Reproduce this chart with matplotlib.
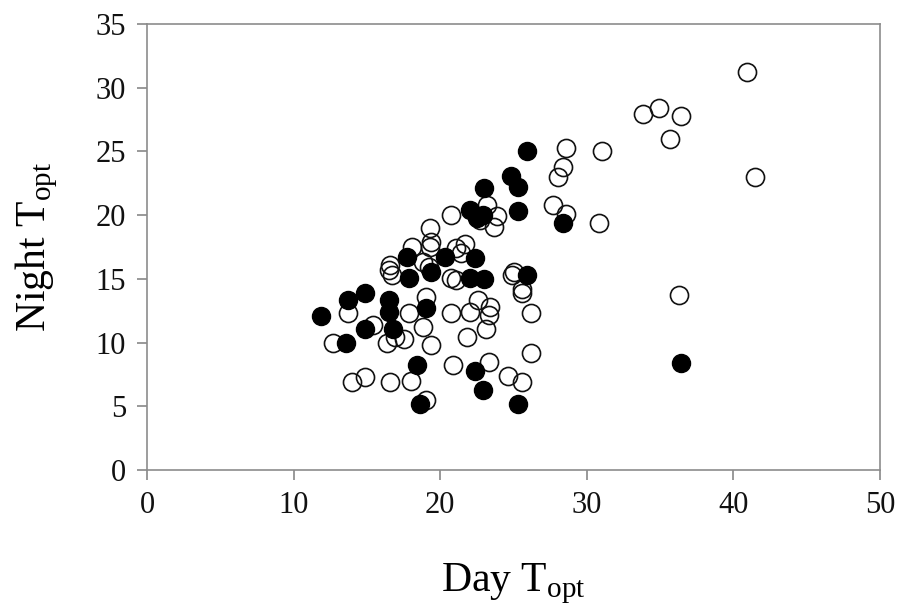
import matplotlib
matplotlib.use("Agg")
import matplotlib.pyplot as plt

plt.rcParams['font.family'] = ['Liberation Serif', 'DejaVu Serif']
plt.rcParams['mathtext.fontset'] = 'custom'
plt.rcParams['mathtext.rm'] = 'Liberation Serif'

# open circles
day_open = [40.9, 41.5, 33.8, 34.9, 36.4, 35.7, 28.6, 31.0, 28.4, 28.0, 27.7, 28.6, 30.8, 36.3,
            20.7, 23.2, 23.9, 23.7, 22.7,
            19.3, 19.4, 19.3, 18.1, 21.1, 21.7, 21.4,
            16.6, 16.5, 16.7, 18.8, 19.2, 20.7, 21.1, 25.0, 24.9, 25.6,
            13.7, 12.7, 15.4, 16.4, 16.9, 17.5, 17.9, 19.0, 18.8, 19.4, 20.7, 22.0, 22.6, 23.4,
            23.3, 23.1, 21.8, 25.6, 26.2, 26.2, 20.9, 23.3, 24.6, 25.6, 14.0, 14.9, 16.6, 18.0, 19.0]
night_open = [31.2, 23.0, 27.9, 28.4, 27.8, 26.0, 25.3, 25.0, 23.8, 23.0, 20.8, 20.1, 19.4, 13.7,
              20.0, 20.8, 19.9, 19.1, 19.6,
              19.0, 17.9, 17.5, 17.5, 17.4, 17.7, 17.0,
              16.1, 15.7, 15.3, 16.3, 15.9, 15.1, 14.9, 15.5, 15.3, 14.2,
              12.3, 10.0, 11.4, 10.0, 10.4, 10.3, 12.3, 13.6, 11.2, 9.8, 12.3, 12.4, 13.3, 12.8,
              12.2, 11.1, 10.4, 13.9, 12.3, 9.2, 8.2, 8.5, 7.4, 6.9, 6.9, 7.3, 6.9, 7.0, 5.5]

# filled circles
day_fill = [25.9, 24.8, 25.3, 23.0, 25.3, 22.0, 22.5, 22.9, 28.4,
            17.7, 20.3, 22.4, 17.9, 19.4, 22.0, 23.0, 25.9,
            11.9, 13.7, 14.9, 16.5, 16.5, 19.0, 14.9, 16.8, 13.6,
            18.4, 22.4, 22.9, 18.6, 25.3, 36.4]
night_fill = [25.0, 23.1, 22.2, 22.1, 20.3, 20.4, 19.8, 20.0, 19.4,
              16.7, 16.7, 16.6, 15.1, 15.5, 15.1, 15.0, 15.3,
              12.1, 13.3, 13.9, 13.3, 12.4, 12.7, 11.1, 11.1, 10.0,
              8.2, 7.8, 6.3, 5.2, 5.2, 8.4]

xticks = [0, 10, 20, 30, 40, 50]
yticks = [0, 5, 10, 15, 20, 25, 30, 35]

fig = plt.figure(figsize=(8.99, 6.12), dpi=100)
ax = fig.add_axes([0.1635, 0.232, 0.8155, 0.729])

ax.plot(day_open, night_open, 'o', ms=13, mfc='none', mec='#111111', mew=1.2, ls='none')
ax.plot(day_fill, night_fill, 'o', ms=13, mfc='black', mec='black', mew=1.0, ls='none')

ax.set_xlim(0, 50)
ax.set_ylim(0, 35)
ax.set_xticks(xticks)
ax.set_yticks(yticks)
ax.tick_params(axis='both', labelsize=22, colors='#888888', labelcolor='#111111',
               length=7, width=1.2, direction='out')
ax.tick_params(axis='x', pad=8)
ax.tick_params(axis='y', pad=8)
for s in ax.spines.values():
    s.set_color('#8c8c8c')
    s.set_linewidth(1.2)

ax.set_xlabel(r'Day T$_{\mathrm{opt}}$', fontsize=30, labelpad=30)
ax.set_ylabel(r'Night T$_{\mathrm{opt}}$', fontsize=30, labelpad=26)

fig.savefig('out.png', dpi=100)
